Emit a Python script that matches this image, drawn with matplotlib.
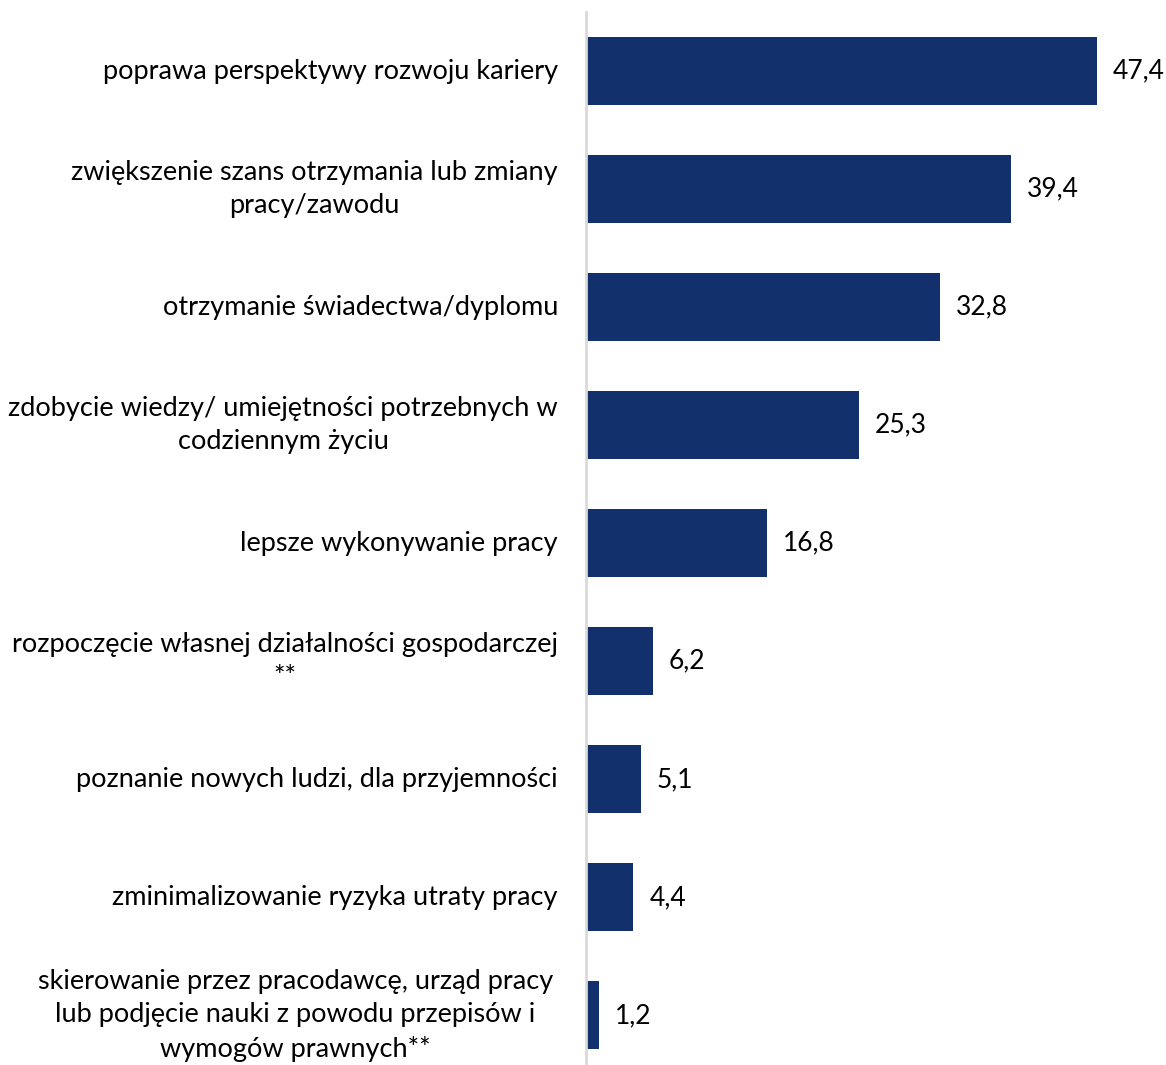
import matplotlib
matplotlib.use("Agg")
import matplotlib.pyplot as plt

categories = [
    "poprawa perspektywy rozwoju kariery",
    "zwiększenie szans otrzymania lub zmiany\npracy/zawodu",
    "otrzymanie świadectwa/dyplomu",
    "zdobycie wiedzy/ umiejętności potrzebnych w\ncodziennym życiu",
    "lepsze wykonywanie pracy",
    "rozpoczęcie własnej działalności gospodarczej\n**",
    "poznanie nowych ludzi, dla przyjemności",
    "zminimalizowanie ryzyka utraty pracy",
    "skierowanie przez pracodawcę, urząd pracy\nlub podjęcie nauki z powodu przepisów i\nwymogów prawnych**",
]
values = [47.4, 39.4, 32.8, 25.3, 16.8, 6.2, 5.1, 4.4, 1.2]
value_labels = ["47,4", "39,4", "32,8", "25,3", "16,8", "6,2", "5,1", "4,4", "1,2"]

W, H = 1166, 1065
fig = plt.figure(figsize=(W / 100, H / 100), dpi=100)
ax = fig.add_axes([586 / W, 0, 1 - 586 / W, (1065 - 12) / H])

font = "Lato"
color = "#12306B"
y = list(range(len(values)))
ax.barh(y, values, height=0.576, color=color)
ax.set_xlim(0, 53.8)
ax.set_ylim(8.42, -0.5)

for yi, v, lab in zip(y, values, value_labels):
    ax.annotate(lab, (v, yi), xytext=(16, 0), textcoords="offset pixels",
                ha="left", va="center", fontsize=19, family=font, color="#000000")

for yi, cat in zip(y, categories):
    off = -33 if cat.count("\n") == 2 else -28
    ax.annotate(cat, (0, yi), xytext=(off, 0), textcoords="offset pixels",
                ha="right", va="center", multialignment="center",
                fontsize=19.5, family=font, color="#000000", linespacing=1.42,
                annotation_clip=False)

for s in ["top", "right", "bottom"]:
    ax.spines[s].set_visible(False)
ax.spines["left"].set_color("#d9d9d9")
ax.spines["left"].set_linewidth(2)
ax.set_xticks([])
ax.set_yticks([])

fig.savefig("out.png", dpi=100)
